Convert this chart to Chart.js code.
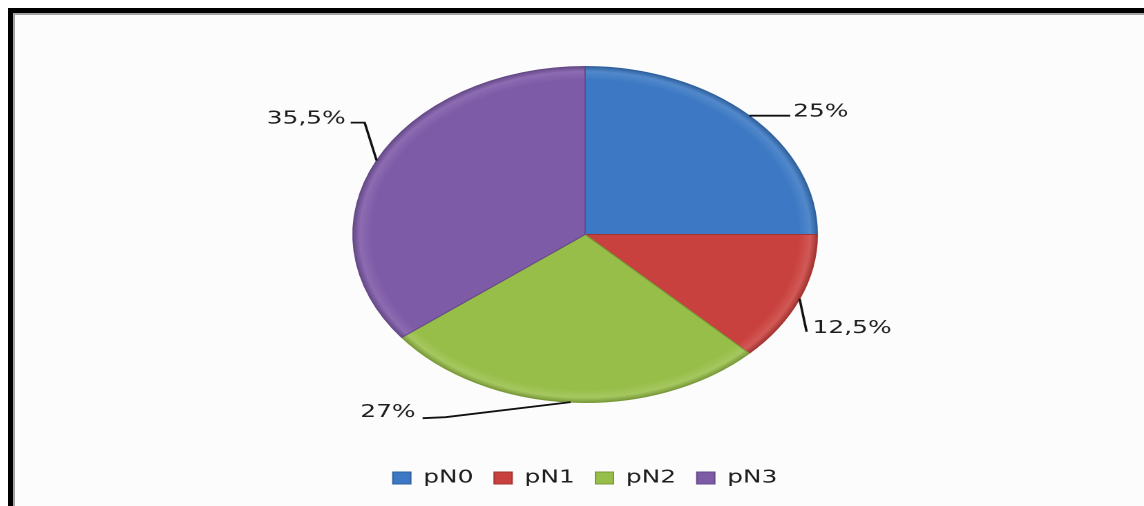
<!DOCTYPE html>
<html>
<head>
<meta charset="utf-8">
<script src="https://cdn.jsdelivr.net/npm/chart.js@4.4.1/dist/chart.umd.min.js"></script>
<style>
html, body { margin: 0; padding: 0; background: #fff; }
#page { position: relative; width: 1144px; height: 506px; overflow: hidden; background: #fff; }
#frame { position: absolute; left: 8px; top: 8px; right: -20px; bottom: -20px;
         border-top: 5px solid #000; border-left: 5px solid #000; background: #fcfcfc; }
#frame::before { content: ''; position: absolute; left: 0; top: 0; right: 0; bottom: 0;
                 border-top: 2px solid #a3a3a3; border-left: 2px solid #a3a3a3; }
/* the chart is laid out narrow and then widened, like the tilted office pie */
#wrap { position: absolute; left: 0; top: 0; width: 828px; height: 506px;
        transform: scaleX(1.3816); transform-origin: 0 0; }
</style>
</head>
<body>
<div id="page">
  <div id="frame"></div>
  <div id="wrap"><canvas id="pieChart"></canvas></div>
</div>
<script>
var labels = ['pN0', 'pN1', 'pN2', 'pN3'];
var values = [25, 12.5, 27, 35.5];

var fills = ['#3c78c3', '#c8413f', '#97be48', '#7e5ba6'];
var rims  = ['#5289cc', '#d25956', '#a6c860', '#8d6cb3'];
var edges = ['#30619e', '#a33431', '#7a9a3a', '#664a88'];

// value text, written with a decimal comma
var valueText = values.map(function(v) { return String(v).replace('.', ',') + '%'; });

// leader line bends and text spot, relative to the slice's outer midpoint
var leaderLayout = [
  { path: [[29.7, 0]],                  text: [31.8, 1],    align: 'left'  },
  { path: [[5.1, 33]],                  text: [9.4, 34],    align: 'left'  },
  { path: [[-90.5, 15], [-107.1, 16]],  text: [-112.2, 15], align: 'right' },
  { path: [[-8.7, -38], [-18.8, -38]],  text: [-22.4, -37], align: 'right' }
];

var PIE_R = 168;

function sliceFill(context) {
  var i = context.dataIndex;
  var area = context.chart.chartArea;
  if (!area) return fills[i];
  var cx = (area.left + area.right) / 2;
  var cy = (area.top + area.bottom) / 2;
  var g = context.chart.ctx.createRadialGradient(cx, cy, 0, cx, cy, PIE_R);
  g.addColorStop(0, fills[i]);
  g.addColorStop(0.92, fills[i]);
  g.addColorStop(0.97, rims[i]);
  g.addColorStop(1, edges[i]);
  return g;
}

var leaderPlugin = {
  id: 'leaders',
  afterDatasetsDraw: function(chart) {
    var ctx = chart.ctx;
    var meta = chart.getDatasetMeta(0);
    ctx.save();
    ctx.font = '18px "DejaVu Sans"';
    ctx.fillStyle = '#1e1e1e';
    ctx.strokeStyle = '#111';
    ctx.lineWidth = 1.8;
    ctx.textBaseline = 'alphabetic';
    meta.data.forEach(function(arc, i) {
      var p = arc.getProps(['x', 'y', 'startAngle', 'endAngle', 'outerRadius'], true);
      var mid = (p.startAngle + p.endAngle) / 2;
      var ax = p.x + Math.cos(mid) * p.outerRadius;
      var ay = p.y + Math.sin(mid) * p.outerRadius;
      var lay = leaderLayout[i];
      ctx.beginPath();
      ctx.moveTo(ax, ay);
      lay.path.forEach(function(pt) { ctx.lineTo(ax + pt[0], ay + pt[1]); });
      ctx.stroke();
      ctx.textAlign = lay.align;
      ctx.fillText(valueText[i], ax + lay.text[0], ay + lay.text[1]);
    });
    ctx.restore();
  }
};

var ctx = document.getElementById('pieChart').getContext('2d');
var chart = new Chart(ctx, {
  type: 'pie',
  data: {
    labels: labels,
    datasets: [{
      data: values,
      radius: PIE_R,
      backgroundColor: sliceFill,
      borderColor: edges,
      borderWidth: 1
    }]
  },
  options: {
    responsive: true,
    maintainAspectRatio: false,
    devicePixelRatio: 2,
    animation: false,
    layout: { padding: { top: 15, left: 19, right: 0, bottom: 9 } },
    plugins: {
      tooltip: { enabled: false },
      legend: {
        position: 'bottom',
        labels: {
          boxWidth: 13,
          boxHeight: 12,
          padding: 15,
          color: '#1e1e1e',
          font: { family: '"DejaVu Sans"', size: 18 },
          generateLabels: function(chart) {
            return labels.map(function(text, i) {
              return { text: text, fillStyle: fills[i], strokeStyle: edges[i], lineWidth: 1,
                       fontColor: '#1e1e1e', hidden: false, index: i };
            });
          }
        }
      }
    }
  },
  plugins: [leaderPlugin]
});
</script>
</body>
</html>
